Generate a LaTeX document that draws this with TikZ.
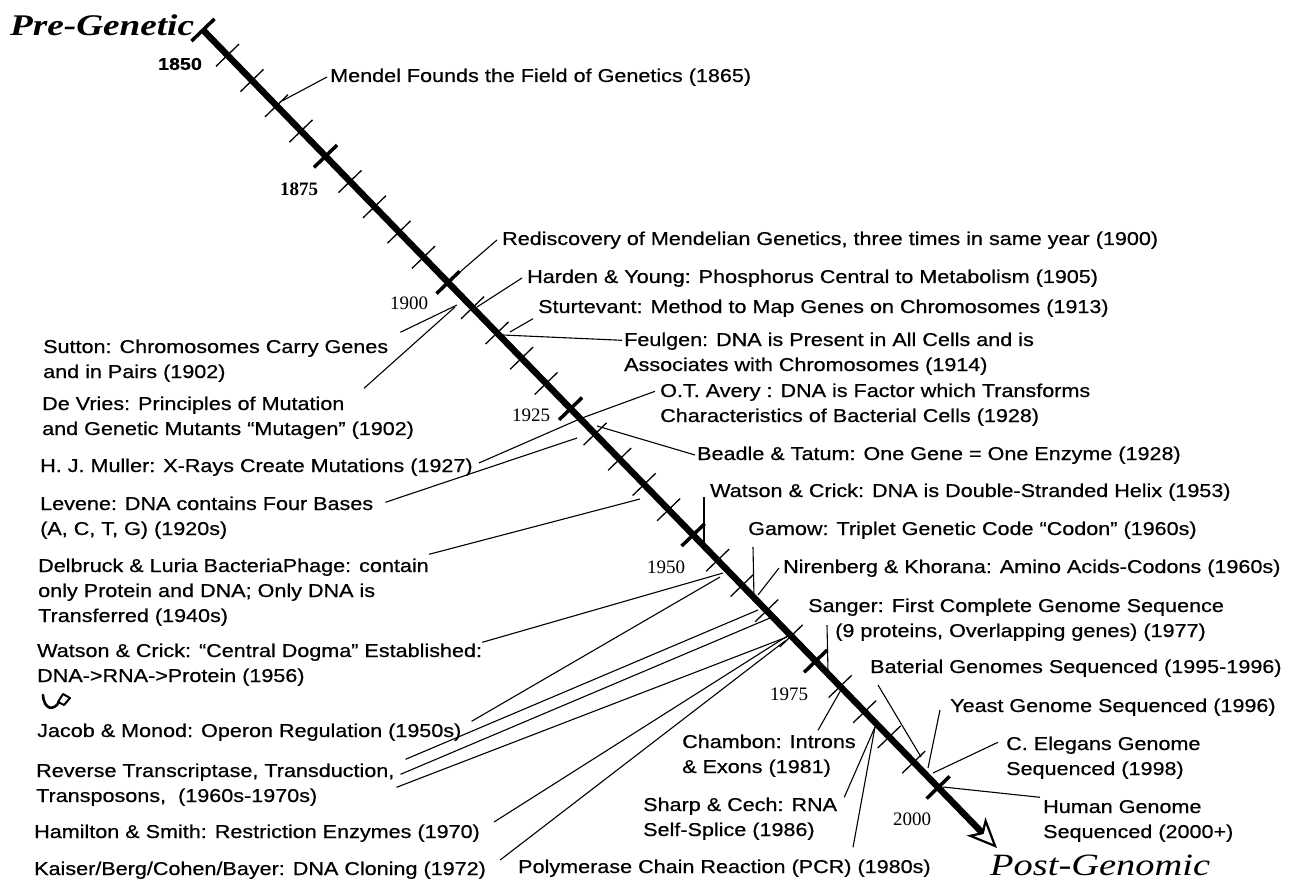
\documentclass[tikz,border=0pt]{standalone}
\usepackage{fontspec}
\setsansfont[FakeStretch=1.16,FakeBold=0.6]{Liberation Sans}
\newfontfamily\yearfont{Liberation Serif}
\newfontfamily\erafont[FakeStretch=1.24]{Liberation Serif}
\usetikzlibrary{calc,arrows.meta}
\newcommand\labfont{\sffamily\fontsize{18.6}{25}\selectfont}
\newcommand\rows[1]{\begin{tabular}[t]{@{}l@{}}#1\end{tabular}}
\begin{document}
\begin{tikzpicture}[x=1pt,y=-1pt,
	lab/.style={anchor=base west,inner sep=0pt,font=\labfont},
	yr/.style={inner sep=0pt,font=\yearfont\fontsize{19}{19}\selectfont},
	conn/.style={line width=1.1pt},
	minortick/.style={line width=1.3pt},
	majortick/.style={line width=3.5pt}]
	\useasboundingbox (0,0) rectangle (1297,882);
	\coordinate (s) at (203,30);
	\coordinate (e) at (997,848);
	% time axis, one unit per year
	\draw[line width=6.5pt,-{Stealth[open,length=30pt,width=26pt,inset=8pt,line width=2.2pt]}] (s) -- (e);
	\foreach\yr in {1855,1860,...,1995} {
		\pgfmathsetmacro\t{(\yr-1850)/162}
		\draw[minortick] ($(s)!\t!(e)$) ++(-11.5,11.1) -- ++(23,-22.2);
	}
	\foreach\yr in {1850,1875,...,2000} {
		\pgfmathsetmacro\t{(\yr-1850)/162}
		\draw[majortick] ($(s)!\t!(e)$) ++(-11.5,11.1) -- ++(23,-22.2);
	}
	\node[yr,font=\sffamily\bfseries\fontsize{17}{17}\selectfont] (y1850) at (180,64) {1850};
	\node[yr,font=\yearfont\bfseries\fontsize{19}{19}\selectfont] (y1875) at (299,189) {1875};
	\node[yr] (y1900) at (409,303) {1900};
	\node[yr] (y1925) at (531,415) {1925};
	\node[yr] (y1950) at (666,567) {1950};
	\node[yr] (y1975) at (789,694) {1975};
	\node[yr] (y2000) at (912,819) {2000};
	\node[anchor=base west,inner sep=0pt,font=\erafont\itshape\bfseries\fontsize{30}{30}\selectfont] (pre) at (10,36) {Pre-Genetic};
	\node[anchor=base west,inner sep=0pt,font=\erafont\itshape\fontsize{31}{31}\selectfont] (post) at (990,875) {Post-Genomic};
	% events right of the axis
	\node[lab] (mendel) at (330,82) {\rows{Mendel Founds the Field of Genetics (1865)}};
	\node[lab] (redisc) at (502,245) {\rows{Rediscovery of Mendelian Genetics, three times in same year (1900)}};
	\node[lab] (harden) at (527,283) {\rows{Harden \& Young: Phosphorus Central to Metabolism (1905)}};
	\node[lab] (sturt) at (538,313) {\rows{Sturtevant: Method to Map Genes on Chromosomes (1913)}};
	\node[lab] (feulgen) at (624,346) {\rows{Feulgen: DNA is Present in All Cells and is\\Associates with Chromosomes (1914)}};
	\node[lab] (avery) at (660,397) {\rows{O.T. Avery : DNA is Factor which Transforms\\Characteristics of Bacterial Cells (1928)}};
	\node[lab] (beadle) at (697,460) {\rows{Beadle \& Tatum: One Gene = One Enzyme (1928)}};
	\node[lab] (helix) at (710,497) {\rows{Watson \& Crick: DNA is Double-Stranded Helix (1953)}};
	\node[lab] (gamow) at (748,535) {\rows{Gamow: Triplet Genetic Code “Codon” (1960s)}};
	\node[lab] (niren) at (783,573) {\rows{Nirenberg \& Khorana: Amino Acids-Codons (1960s)}};
	\node[lab] (sanger) at (808,612) {\rows{Sanger: First Complete Genome Sequence}};
	\node[lab] (sangerb) at (835,637) {\rows{(9 proteins, Overlapping genes) (1977)}};
	\node[lab] (baterial) at (870,673) {\rows{Baterial Genomes Sequenced (1995-1996)}};
	\node[lab] (yeast) at (950,712) {\rows{Yeast Genome Sequenced (1996)}};
	\node[lab] (elegans) at (1006,750) {\rows{C. Elegans Genome\\Sequenced (1998)}};
	\node[lab] (human) at (1043,813) {\rows{Human Genome\\Sequenced (2000+)}};
	\node[lab] (chambon) at (682,748) {\rows{Chambon: Introns\\\& Exons (1981)}};
	\node[lab] (sharp) at (643,811) {\rows{Sharp \& Cech: RNA\\Self-Splice (1986)}};
	\node[lab] (pcr) at (518,873) {\rows{Polymerase Chain Reaction (PCR) (1980s)}};
	% events left of the axis
	\node[lab] (sutton) at (43,353) {\rows{Sutton: Chromosomes Carry Genes\\and in Pairs (1902)}};
	\node[lab] (devries) at (42,410) {\rows{De Vries: Principles of Mutation\\and Genetic Mutants “Mutagen” (1902)}};
	\node[lab] (muller) at (40,472) {\rows{H. J. Muller: X-Rays Create Mutations (1927)}};
	\node[lab] (levene) at (40,510) {\rows{Levene: DNA contains Four Bases\\(A, C, T, G) (1920s)}};
	\node[lab] (delbruck) at (38,572) {\rows{Delbruck \& Luria BacteriaPhage: contain\\only Protein and DNA; Only DNA is\\Transferred (1940s)}};
	\node[lab] (watsoncd) at (37,657) {\rows{Watson \& Crick: “Central Dogma” Established:\\DNA->RNA->Protein (1956)}};
	\node[lab] (jacob) at (37,737) {\rows{Jacob \& Monod: Operon Regulation (1950s)}};
	\node[lab] (reverse) at (36,777) {\rows{Reverse Transcriptase, Transduction,\\Transposons,\ \ (1960s-1970s)}};
	\node[lab] (hamilton) at (34,838) {\rows{Hamilton \& Smith: Restriction Enzymes (1970)}};
	\node[lab] (kaiser) at (34,875) {\rows{Kaiser/Berg/Cohen/Bayer: DNA Cloning (1972)}};
	% little turn arrow under the central dogma
	\draw[line width=2.6pt,line cap=round] (43,695) .. controls (44,710) and (54,711) .. (59,702);
	\draw[line width=2pt,line join=round] (58,702) -- (63,694) -- (70,698) -- (64,705) -- cycle;
	% where the leaders meet the axis
	\coordinate (p1865) at (282,101);
	\coordinate (p1900) at (453,278);
	\coordinate (p1902a) at (457,305);
	\coordinate (p1902b) at (455,307);
	\coordinate (p1905) at (477,307);
	\coordinate (p1913) at (510,332);
	\coordinate (p1914) at (503,335);
	\coordinate (p1927) at (582,418);
	\coordinate (p1928) at (597,426);
	\coordinate (p1929) at (577,438);
	\coordinate (p1940) at (640,499);
	\coordinate (p1953) at (704,546);
	\coordinate (p1956) at (723,573);
	\coordinate (p1958) at (720,577);
	\coordinate (p1961) at (754,598);
	\coordinate (p1962) at (758,595);
	\coordinate (p1965) at (758,610);
	\coordinate (p1967) at (770,618);
	\coordinate (p1970a) at (787,637);
	\coordinate (p1970b) at (789,635);
	\coordinate (p1972) at (785,641);
	\coordinate (p1977) at (828,672);
	\coordinate (p1981) at (842,688);
	\coordinate (p1986) at (875,727);
	\coordinate (p1995) at (921,757);
	\coordinate (p1997) at (928,768);
	\coordinate (p1998) at (933,773);
	\coordinate (p2000) at (943,787);
	% leaders
	\draw[conn] (p1865) -- ([xshift=-3pt]mendel.west);
	\draw[conn] (p1900) -- ([xshift=-5pt]redisc.west);
	\draw[conn] (p1905) -- ([xshift=-5pt]harden.west);
	\draw[conn] (p1913) -- ($(sturt.south west)+(-5,-2)$);
	\draw[conn] (p1914) -- ($(feulgen.north west)+(-2,12)$);
	\draw[conn] (p1927) -- ($(avery.north west)+(-5,12)$);
	\draw[conn] (p1928) -- ([xshift=-2pt]beadle.west);
	\draw[conn] ($(helix.base west)+(-6,0)$) -- (p1953);
	\draw[conn] ($(gamow.base west)+(5,12)$) -- (p1961);
	\draw[conn] (p1962) -- ([xshift=-4pt]niren.west);
	\draw[conn] ($(sangerb.base west)+(-8,-12)$) -- (p1977);
	\draw[conn] ($(baterial.base west)+(8,12)$) -- (p1995);
	\draw[conn] ($(yeast.base west)+(-10,-2)$) -- (p1997);
	\draw[conn] ($(elegans.north west)+(-8,10)$) -- (p1998);
	\draw[conn] ($(human.north west)+(-3,2)$) -- (p2000);
	\draw[conn] ($(chambon.north west)+(136,0)$) -- (p1981);
	\draw[conn] ($(sharp.north east)+(7,4)$) -- (p1986);
	\draw[conn] ($(pcr.north west)+(335,-8)$) -- (p1986);
	\draw[conn] ($(sutton.north east)+(12,-3)$) -- (p1902a);
	\draw[conn] ($(devries.north west)+(322,-4)$) -- (p1902b);
	\draw[conn] ($(muller.east)+(6,-4)$) -- (p1927);
	\draw[conn] ($(levene.north east)+(12,10)$) -- (p1929);
	\draw[conn] (delbruck.north east) -- (p1940);
	\draw[conn] ($(watsoncd.north east)+(0,3)$) -- (p1956);
	\draw[conn] ($(jacob.north east)+(10,2)$) -- (p1958);
	\draw[conn] ($(reverse.north east)+(11,0)$) -- (p1965);
	\draw[conn] ($(reverse.north east)+(6,15)$) -- (p1967);
	\draw[conn] ($(reverse.north east)+(2,28)$) -- (p1970a);
	\draw[conn] ($(hamilton.east)+(14,-11)$) -- (p1970b);
	\draw[conn] ($(kaiser.east)+(14,-10)$) -- (p1972);
\end{tikzpicture}
\end{document}
